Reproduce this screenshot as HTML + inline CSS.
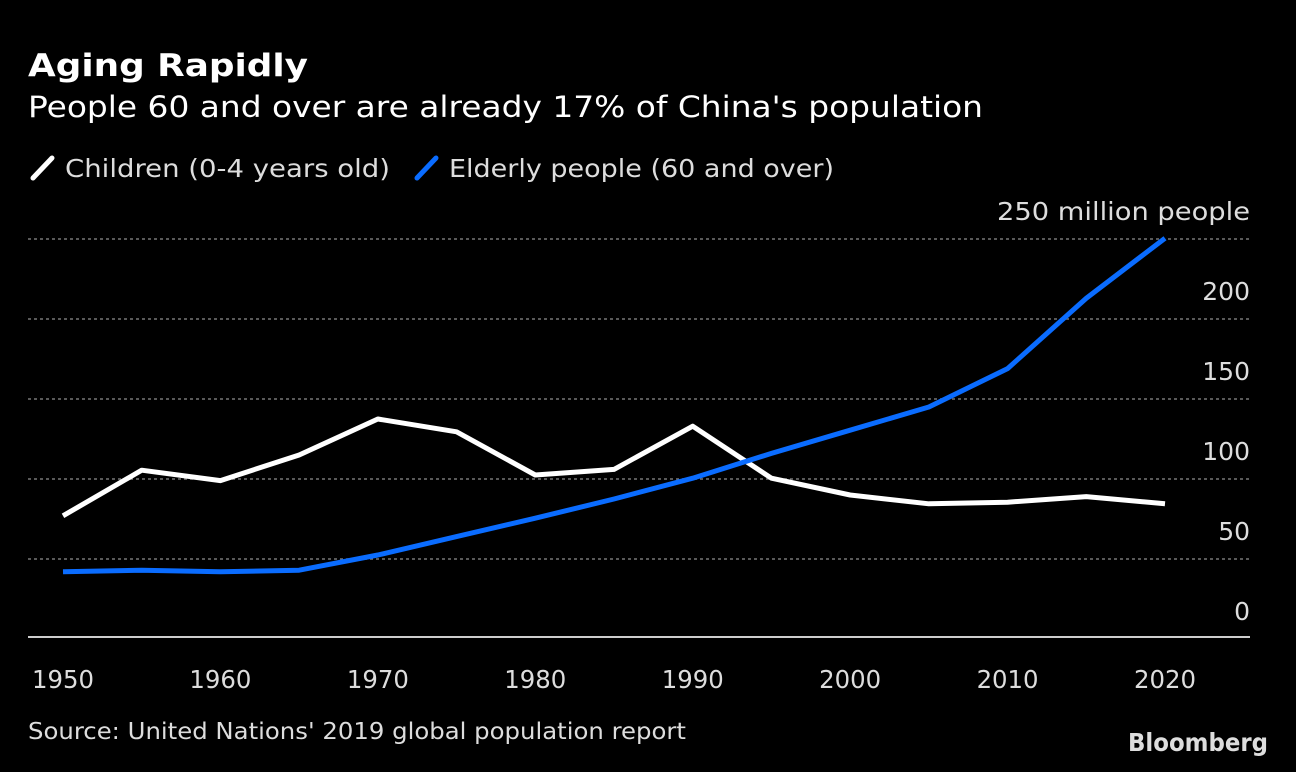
<!DOCTYPE html>
<html><head><meta charset="utf-8"><style>
body{margin:0;background:#000;width:1296px;height:768px;overflow:hidden;font-family:"DejaVu Sans",sans-serif}
text{font-family:"DejaVu Sans",sans-serif}
</style></head><body>
<svg id="chart" width="1296" height="768" xmlns="http://www.w3.org/2000/svg">
<text x="28" y="76" fill="#fff" font-size="31" font-weight="bold" textLength="280" lengthAdjust="spacingAndGlyphs">Aging Rapidly</text>
<text x="28" y="117" fill="#fff" font-size="29" textLength="955" lengthAdjust="spacingAndGlyphs">People 60 and over are already 17% of China's population</text>
<g>
<line x1="33" y1="178" x2="52" y2="158" stroke="#fff" stroke-width="5" stroke-linecap="round"/>
<text x="65" y="177" fill="#ddd" font-size="25" textLength="325" lengthAdjust="spacingAndGlyphs">Children (0-4 years old)</text>
<line x1="417" y1="178" x2="436" y2="158" stroke="#0a6cff" stroke-width="5" stroke-linecap="round"/>
<text x="449" y="177" fill="#ddd" font-size="25" textLength="385" lengthAdjust="spacingAndGlyphs">Elderly people (60 and over)</text>
</g>
<g id="grid"></g><g id="lines"></g>
<text x="28" y="739" fill="#ddd" font-size="23" textLength="658" lengthAdjust="spacingAndGlyphs">Source: United Nations' 2019 global population report</text>
<text x="1128" y="751" fill="#ddd" font-size="25" font-weight="bold" textLength="140" lengthAdjust="spacingAndGlyphs">Bloomberg</text>
</svg>
<script>
const years=[1950,1955,1960,1965,1970,1975,1980,1985,1990,1995,2000,2005,2010,2015,2020];
const children=[77,105.5,99,115,137.5,129.5,102.5,106,133,100.5,90,84.5,85.5,89,84.5];
const elderly=[42,43,42,43,52.5,64,75.5,87.5,100.5,116,130.5,145,169,213,250.5];
const yTicks=[0,50,100,150,200,250];
const yTickLabels=["0","50","100","150","200","250 million people"];
const xTicks=[1950,1960,1970,1980,1990,2000,2010,2020];
const NS="http://www.w3.org/2000/svg";
const x=v=>63+(v-1950)*(1165-63)/70;
const y=v=>639-v*1.6;
const grid=document.getElementById('grid'),lines=document.getElementById('lines');
function mk(tag,attrs,parent){const e=document.createElementNS(NS,tag);for(const k in attrs)e.setAttribute(k,attrs[k]);parent.appendChild(e);return e;}
yTicks.forEach((t,i)=>{
 if(t>0){const l=mk('line',{x1:28,x2:1250,y1:y(t),y2:y(t),stroke:'#777','stroke-width':1.5,'stroke-dasharray':'3,3'},grid);
 
 }
 const tx=mk('text',{x:1250,y:y(t)-19,fill:'#ddd','font-size':25,'text-anchor':'end'},grid);
 if(i===yTicks.length-1){tx.setAttribute('textLength',253);tx.setAttribute('lengthAdjust','spacingAndGlyphs');}
 tx.textContent=yTickLabels[i];
 
 
});
const base=mk('line',{x1:28,x2:1250,y1:637,y2:637,stroke:'#ccc','stroke-width':2},grid);


xTicks.forEach(t=>{
 const tx=mk('text',{x:x(t),y:688,fill:'#ddd','font-size':25,'text-anchor':'middle',textLength:62,lengthAdjust:'spacingAndGlyphs'},grid);
 tx.textContent=t;
 
 
});
function series(vals,color,name){
 const p=mk('polyline',{points:vals.map((v,i)=>x(years[i])+','+y(v)).join(' '),fill:'none',stroke:color,'stroke-width':5,'stroke-linejoin':'round'},lines);
 
 
}
series(children,'#fff','children-line');
series(elderly,'#0a6cff','elderly-line');
</script>
</body></html>
